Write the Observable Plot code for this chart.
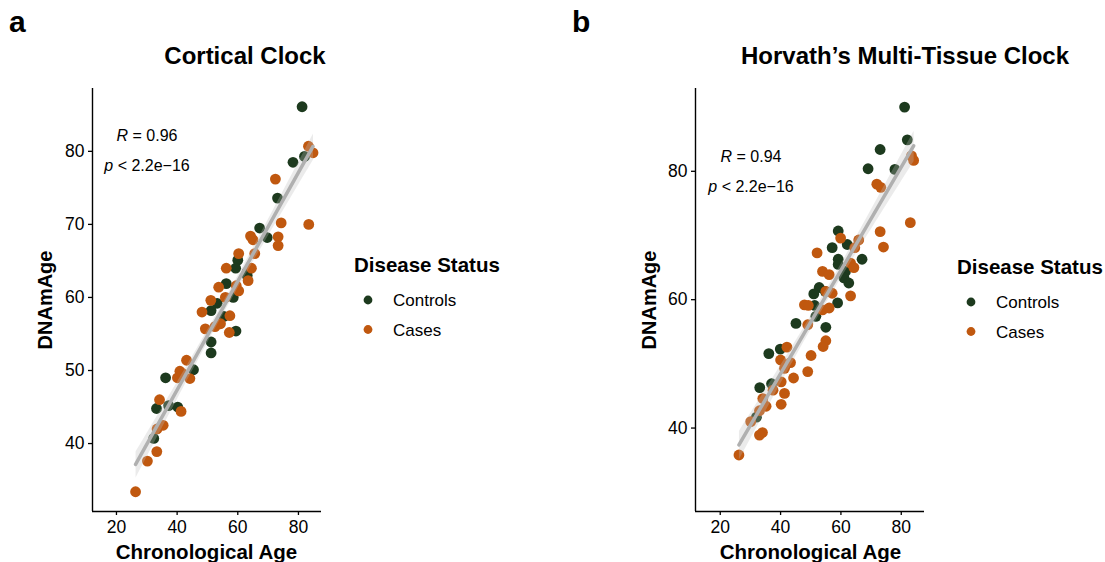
<!DOCTYPE html>
<html>
<head>
<meta charset="utf-8">
<script src="https://cdn.jsdelivr.net/npm/d3@7"></script>
<script src="https://cdn.jsdelivr.net/npm/@observablehq/plot@0.6"></script>
<style>
  html, body { margin: 0; padding: 0; background: #fff; }
  #page { position: relative; width: 1105px; height: 562px; overflow: hidden; font-family: "Liberation Sans", Arial, Helvetica, sans-serif; }
  .panel { position: absolute; top: 0; }
  #overlay { position: absolute; left: 0; top: 0; pointer-events: none; }
  #overlay text { font-family: "Liberation Sans", Arial, Helvetica, sans-serif; fill: #000; }
</style>
</head>
<body>
<div id="page">
  <div id="panelA" class="panel" style="left:0px"></div>
  <div id="panelB" class="panel" style="left:603px"></div>
  <svg id="overlay" width="1105" height="562"></svg>
</div>
<script>
// ---------------- data ----------------
const statusLevels = ["Controls", "Cases"];
const statusColors = ["#1d3a1e", "#c0580f"];
const xTicks = [20, 40, 60, 80];
const yTicksA = [40, 50, 60, 70, 80];
const yTicksB = [40, 60, 80];

// Panel a: Cortical Clock
const cortControlsAge  = [81.2, 82.0, 78.2, 73.1, 67.2, 69.7, 60.0, 59.3, 63.1, 63.1, 56.2, 58.5, 53.2, 51.2, 55.4, 59.4, 51.2, 51.2, 45.4, 36.2, 33.2, 37.2, 40.2, 32.3];
const cortControlsDNAm = [86.1, 79.3, 78.5, 73.6, 69.5, 68.2, 65.1, 64.0, 63.5, 63.0, 61.9, 60.0, 59.2, 58.2, 57.4, 55.4, 53.9, 52.4, 50.1, 49.0, 44.8, 45.2, 45.0, 40.7];
const cortCasesAge  = [83.3, 84.8, 72.4, 74.3, 83.4, 73.3, 73.3, 64.2, 65.0, 65.6, 60.3, 56.2, 64.5, 63.4, 53.7, 59.5, 60.3, 55.9, 51.1, 48.2, 57.4, 49.3, 52.5, 54.3, 57.2, 43.1, 40.9, 40.1, 44.2, 41.7, 34.2, 41.3, 35.4, 33.4, 33.3, 30.2, 26.3];
const cortCasesDNAm = [80.7, 79.8, 76.2, 70.2, 70.0, 68.3, 67.1, 68.4, 67.9, 66.0, 66.0, 64.0, 64.0, 62.3, 61.4, 61.6, 60.9, 60.0, 59.6, 58.0, 57.5, 55.7, 56.0, 56.4, 55.2, 51.4, 49.9, 49.0, 48.9, 49.6, 46.0, 44.4, 42.5, 42.0, 38.9, 37.6, 33.4];

// Panel b: Horvath's Multi-Tissue Clock
const horvControlsAge  = [81.1, 82.0, 73.0, 69.0, 77.9, 59.1, 57.1, 62.1, 59.1, 59.1, 67.0, 61.5, 61.0, 62.6, 52.8, 51.0, 54.8, 58.9, 51.3, 51.7, 45.1, 55.0, 36.1, 39.9, 37.0, 33.1, 32.0];
const horvControlsDNAm = [90.0, 84.9, 83.4, 80.4, 80.3, 70.7, 68.1, 68.6, 66.3, 65.5, 66.3, 64.4, 63.4, 62.6, 61.9, 60.9, 61.3, 59.5, 59.1, 57.4, 56.3, 55.7, 51.6, 52.3, 46.9, 46.3, 41.7];
const horvCasesAge  = [83.4, 84.1, 71.9, 73.2, 83.0, 73.0, 74.1, 59.9, 65.9, 64.6, 52.1, 63.2, 64.3, 53.9, 56.1, 55.0, 57.1, 63.2, 47.9, 49.2, 53.9, 56.1, 49.0, 55.0, 54.1, 42.1, 40.0, 43.3, 50.1, 41.3, 49.0, 44.3, 40.2, 37.5, 41.3, 34.1, 35.2, 40.2, 33.0, 30.1, 34.0, 33.0, 26.2];
const horvCasesDNAm = [82.4, 81.7, 78.0, 77.5, 72.0, 70.6, 68.2, 69.6, 69.3, 68.1, 67.3, 65.7, 65.0, 64.4, 63.9, 61.3, 61.0, 60.6, 59.2, 59.1, 58.4, 58.7, 56.1, 53.6, 52.7, 52.6, 50.6, 50.2, 51.3, 49.3, 48.8, 47.8, 47.2, 45.9, 45.4, 44.6, 43.4, 43.7, 42.7, 41.0, 39.3, 38.9, 35.8];

const xDomainA = [12.1, 87.6];
const yDomainA = [30.7, 88.6];
const xDomainB = [11.8, 87.7];
const yDomainB = [27.0, 92.9];

// -------------- build --------------
function rows(cAge, cDNAm, kAge, kDNAm) {
  const out = [];
  cAge.forEach((a, i) => out.push({age: a, dnam: cDNAm[i], status: "Controls"}));
  kAge.forEach((a, i) => out.push({age: a, dnam: kDNAm[i], status: "Cases"}));
  return out;
}

function panel(data, xDom, yDom, yTicks) {
  return Plot.plot({
    width: 340,
    height: 562,
    marginLeft: 92,
    marginRight: 340 - 92 - 229,
    marginTop: 88,
    marginBottom: 51,
    style: {fontFamily: '"Liberation Sans", Arial, Helvetica, sans-serif', color: "#000", background: "transparent", overflow: "visible"},
    x: {domain: xDom},
    y: {domain: yDom},
    color: {domain: statusLevels, range: statusColors},
    marks: [
      Plot.dot(data, {x: "age", y: "dnam", fill: "status", r: 5.4, stroke: "none"}),
      Plot.linearRegressionY(data, {x: "age", y: "dnam", stroke: "#b0b0b0", strokeWidth: 3.5, fill: "#bdbdbd", fillOpacity: 0.3, ci: 0.95}),
      Plot.ruleX([xDom[0]], {stroke: "#000", strokeWidth: 1.4}),
      Plot.ruleY([yDom[0]], {stroke: "#000", strokeWidth: 1.4}),
      Plot.axisX({ticks: xTicks, tickSize: 4, tickPadding: 5, fontSize: 17.5, label: null, strokeWidth: 1.3}),
      Plot.axisY({ticks: yTicks, tickSize: 4, tickPadding: 4, fontSize: 17.5, label: null, strokeWidth: 1.3})
    ]
  });
}

document.getElementById("panelA").appendChild(panel(rows(cortControlsAge, cortControlsDNAm, cortCasesAge, cortCasesDNAm), xDomainA, yDomainA, yTicksA));
document.getElementById("panelB").appendChild(panel(rows(horvControlsAge, horvControlsDNAm, horvCasesAge, horvCasesDNAm), xDomainB, yDomainB, yTicksB));

// -------------- text overlay --------------
const ov = d3.select("#overlay");
function txt(x, y, s, opts = {}) {
  const t = ov.append("text").attr("x", x).attr("y", y)
    .attr("font-size", opts.size || 17)
    .attr("font-weight", opts.bold ? "bold" : "normal")
    .attr("text-anchor", opts.anchor || "start");
  if (opts.rotate) t.attr("transform", `rotate(-90 ${x} ${y})`);
  t.text(s);
  return t;
}
function statText(cx, y, r) {
  const t = ov.append("text").attr("x", cx).attr("y", y).attr("font-size", 16).attr("text-anchor", "middle");
  t.append("tspan").attr("font-style", "italic").text("R");
  t.append("tspan").text(" = " + r);
  const p = ov.append("text").attr("x", cx).attr("y", y + 29.5).attr("font-size", 16).attr("text-anchor", "middle");
  p.append("tspan").attr("font-style", "italic").text("p");
  p.append("tspan").text(" < 2.2e\u221216");
}
function legend(x, y) {
  txt(x, y, "Disease Status", {size: 20.5, bold: true});
  statusLevels.forEach((s, i) => {
    ov.append("circle").attr("cx", x + 14).attr("cy", y + 28 + i * 29.5).attr("r", 4.4).attr("fill", statusColors[i]);
    txt(x + 39, y + 34 + i * 29.5, s, {size: 17});
  });
}

// panel a
txt(9, 32, "a", {size: 30, bold: true});
txt(245, 64, "Cortical Clock", {size: 24, bold: true, anchor: "middle"});
statText(147, 141, "0.96");
txt(206.5, 559, "Chronological Age", {size: 20.5, bold: true, anchor: "middle"});
txt(52, 300, "DNAmAge", {size: 20, bold: true, anchor: "middle", rotate: true});
legend(354, 272);

// panel b
txt(572, 32, "b", {size: 30, bold: true});
txt(905, 64, "Horvath\u2019s Multi-Tissue Clock", {size: 24, bold: true, anchor: "middle"});
statText(751, 162, "0.94");
txt(810.5, 559, "Chronological Age", {size: 20.5, bold: true, anchor: "middle"});
txt(656, 300, "DNAmAge", {size: 20, bold: true, anchor: "middle", rotate: true});
legend(957, 274);
</script>
</body>
</html>
